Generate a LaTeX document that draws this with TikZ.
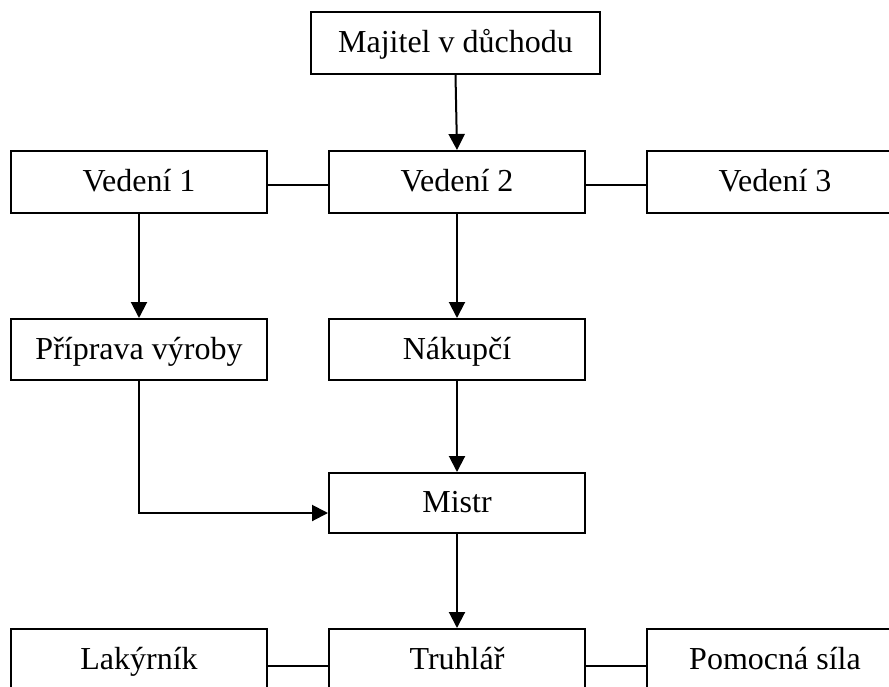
\documentclass[tikz,border=0pt]{standalone}
\usepackage{fontspec}
\setmainfont{Liberation Serif}
\usetikzlibrary{arrows.meta}
\begin{document}
\begin{tikzpicture}[x=1pt,y=-1pt,
  box/.style={draw=black,line width=2pt,rectangle,minimum width=256pt,minimum height=62pt,
    inner sep=0pt,text height=24pt,text depth=5pt,font=\fontsize{32}{37}\selectfont},
  conn/.style={line width=2pt},
  arr/.style={line width=2pt,-{Triangle[length=16pt,width=16pt]}}]
\useasboundingbox (0,0) rectangle (889,686);
\clip (0,0) rectangle (889,686);
\node[box,minimum width=289pt] (maj) at (455.5,43) {Majitel v důchodu};
\node[box] (v1) at (139,182) {Vedení 1};
\node[box] (v2) at (457,182) {Vedení 2};
\node[box] (v3) at (775,182) {Vedení 3};
\node[box,minimum height=61pt] (prip) at (139,349.5) {Příprava výroby};
\node[box,minimum height=61pt] (nak) at (457,349.5) {Nákupčí};
\node[box,minimum height=60pt] (mistr) at (457,503) {Mistr};
\node[box] (lak) at (139,660) {Lakýrník};
\node[box] (tru) at (457,660) {Truhlář};
\node[box] (pom) at (775,660) {Pomocná síla};
\draw[arr] (maj.south) -- (v2.north);
\draw[conn] ([yshift=-3pt]v1.east) -- ([yshift=-3pt]v2.west);
\draw[conn] ([yshift=-3pt]v2.east) -- ([yshift=-3pt]v3.west);
\draw[arr] (v1.south) -- (prip.north);
\draw[arr] (v2.south) -- (nak.north);
\draw[arr] (prip.south) |- ([yshift=-10pt]mistr.west);
\draw[arr] (nak.south) -- (mistr.north);
\draw[arr] (mistr.south) -- (tru.north);
\draw[conn] ([yshift=-6pt]lak.east) -- ([yshift=-6pt]tru.west);
\draw[conn] ([yshift=-6pt]tru.east) -- ([yshift=-6pt]pom.west);
\end{tikzpicture}
\end{document}
